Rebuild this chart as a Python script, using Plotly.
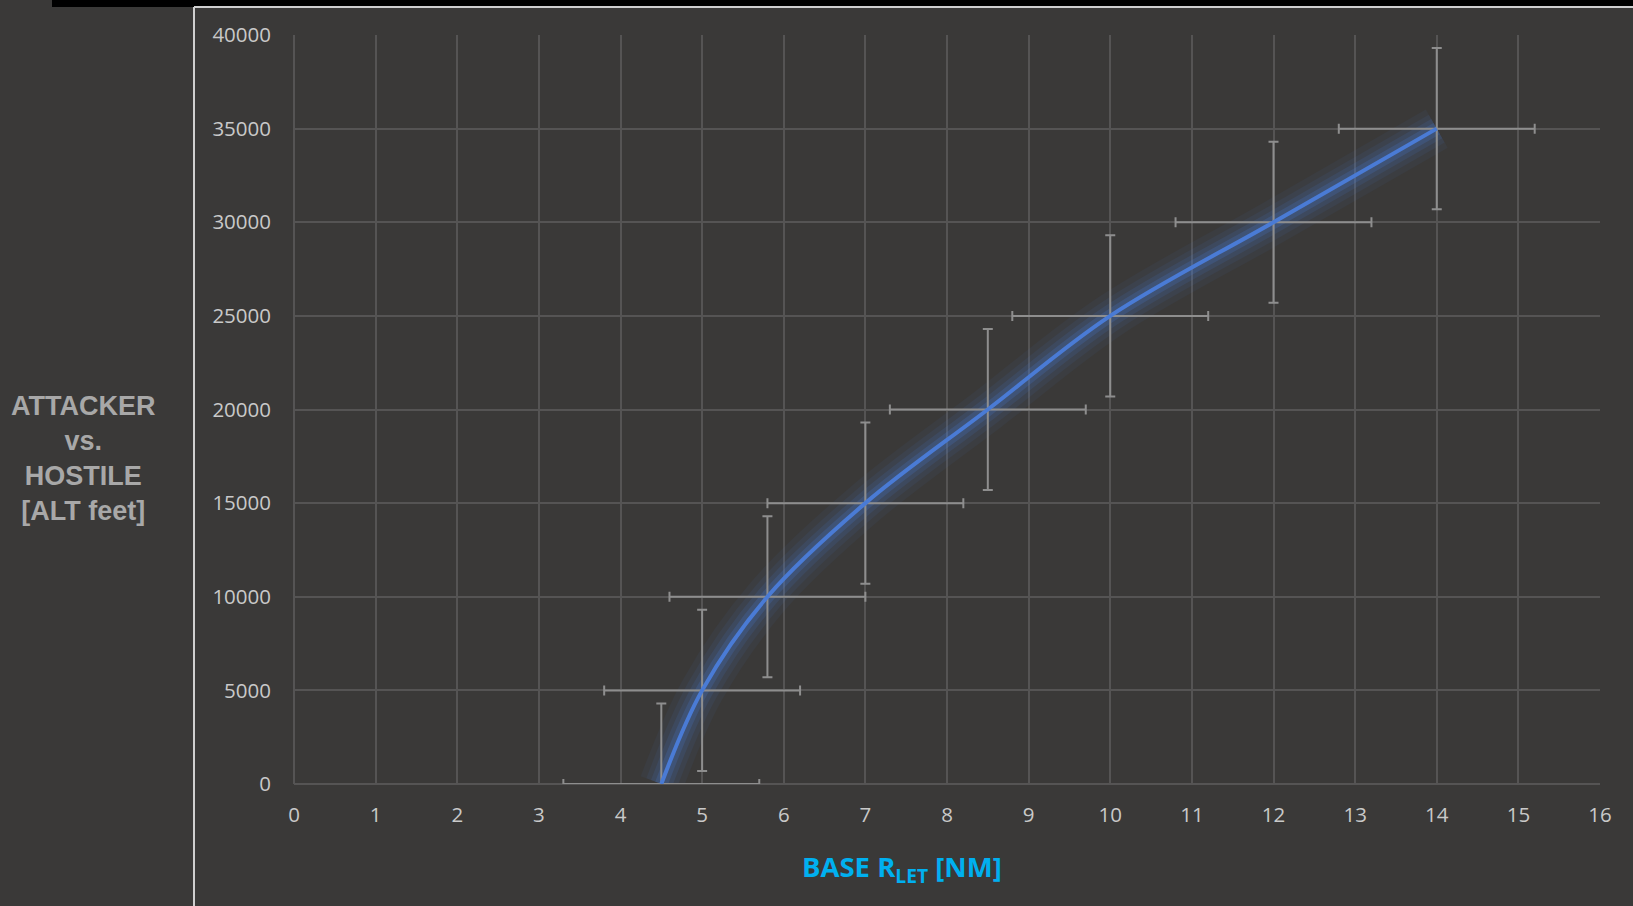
import plotly.graph_objects as go

# ---- data ----
alt_feet = [0, 5000, 10000, 15000, 20000, 25000, 30000, 35000]
base_rlet_nm = [4.5, 5.0, 5.8, 7.0, 8.5, 10.0, 12.0, 14.0]
x_err_nm = [1.2, 1.2, 1.2, 1.2, 1.2, 1.2, 1.2, 1.2]
y_err_feet = [4300, 4300, 4300, 4300, 4300, 4300, 4300, 4300]
x_ticks = list(range(0, 17))
y_ticks = list(range(0, 40001, 5000))

W, H = 1633, 906
L, R, T, B = 294, 33, 35, 122
PW, PH = W - L - R, H - T - B

def px(p):
    return (p - L) / PW

def py(p):
    return 1 - (p - T) / PH

BG = "#3a3938"
GRID = "#555454"
ERR = "#8e8e8e"
BLUE = "#4a7bd5"

fig = go.Figure()

# glow layers
for w, op in [(44, 0.06), (32, 0.08), (22, 0.12), (13, 0.2)]:
    fig.add_trace(go.Scatter(
        x=base_rlet_nm, y=alt_feet, mode="lines",
        line=dict(color=BLUE, width=w, shape="spline", smoothing=1.0),
        opacity=op, hoverinfo="skip", showlegend=False))

# error bars
fig.add_trace(go.Scatter(
    x=base_rlet_nm, y=alt_feet, mode="markers",
    marker=dict(size=1, color="rgba(0,0,0,0)"),
    error_x=dict(type="data", array=x_err_nm, visible=True, color=ERR, thickness=2, width=5),
    error_y=dict(type="data", array=y_err_feet, visible=True, color=ERR, thickness=2, width=5),
    showlegend=False))

# main curve
fig.add_trace(go.Scatter(
    x=base_rlet_nm, y=alt_feet, mode="lines",
    line=dict(color=BLUE, width=4, shape="spline", smoothing=1.0),
    showlegend=False))

fig.update_xaxes(range=[0, 16], tickvals=x_ticks, showgrid=True, gridcolor=GRID, gridwidth=1.5,
                 zeroline=True, zerolinecolor=GRID, zerolinewidth=1.5, showline=False,
                 tickfont=dict(family="Open Sans", size=20.5, color="#c9c9c9"), ticks="",
                 ticklabelstandoff=16)
fig.update_yaxes(range=[0, 40000], tickvals=y_ticks, tickformat="d", showgrid=True, gridcolor=GRID,
                 gridwidth=1.5, zeroline=True, zerolinecolor=GRID, zerolinewidth=1.5, showline=False,
                 tickfont=dict(family="Open Sans", size=20.5, color="#c9c9c9"), ticks="",
                 ticklabelstandoff=22)

shapes = [
    dict(type="rect", xref="paper", yref="paper", x0=px(52), x1=px(W), y0=py(0), y1=py(7),
         fillcolor="black", line=dict(width=0), layer="above"),
    dict(type="line", xref="paper", yref="paper", x0=px(194), x1=px(194), y0=py(7), y1=py(H),
         line=dict(color="#cfcfcf", width=2), layer="above"),
    dict(type="line", xref="paper", yref="paper", x0=px(194), x1=px(W), y0=py(7), y1=py(7),
         line=dict(color="#cfcfcf", width=2), layer="above"),
]

annotations = [
    dict(xref="paper", yref="paper", x=px(83), y=py(458), xanchor="center", yanchor="middle",
         text="<b>ATTACKER<br>vs.<br>HOSTILE<br>[ALT feet]</b>", showarrow=False, align="center",
         font=dict(family="Liberation Sans", size=27, color="#a8a8a8")),
    dict(xref="paper", yref="paper", x=px(902), y=py(868), xanchor="center", yanchor="middle",
         text="<b>BASE R<sub>LET</sub> [NM]</b>", showarrow=False,
         font=dict(family="Open Sans", size=27.5, color="#00b0f0")),
]

fig.update_layout(
    width=W, height=H, paper_bgcolor=BG, plot_bgcolor=BG,
    margin=dict(l=L, r=R, t=T, b=B, autoexpand=False),
    shapes=shapes, annotations=annotations, showlegend=False,
)

fig.write_html("out.html", config={"displayModeBar": False},
               post_script="document.body.style.margin='0';document.body.style.background='" + BG + "';")
